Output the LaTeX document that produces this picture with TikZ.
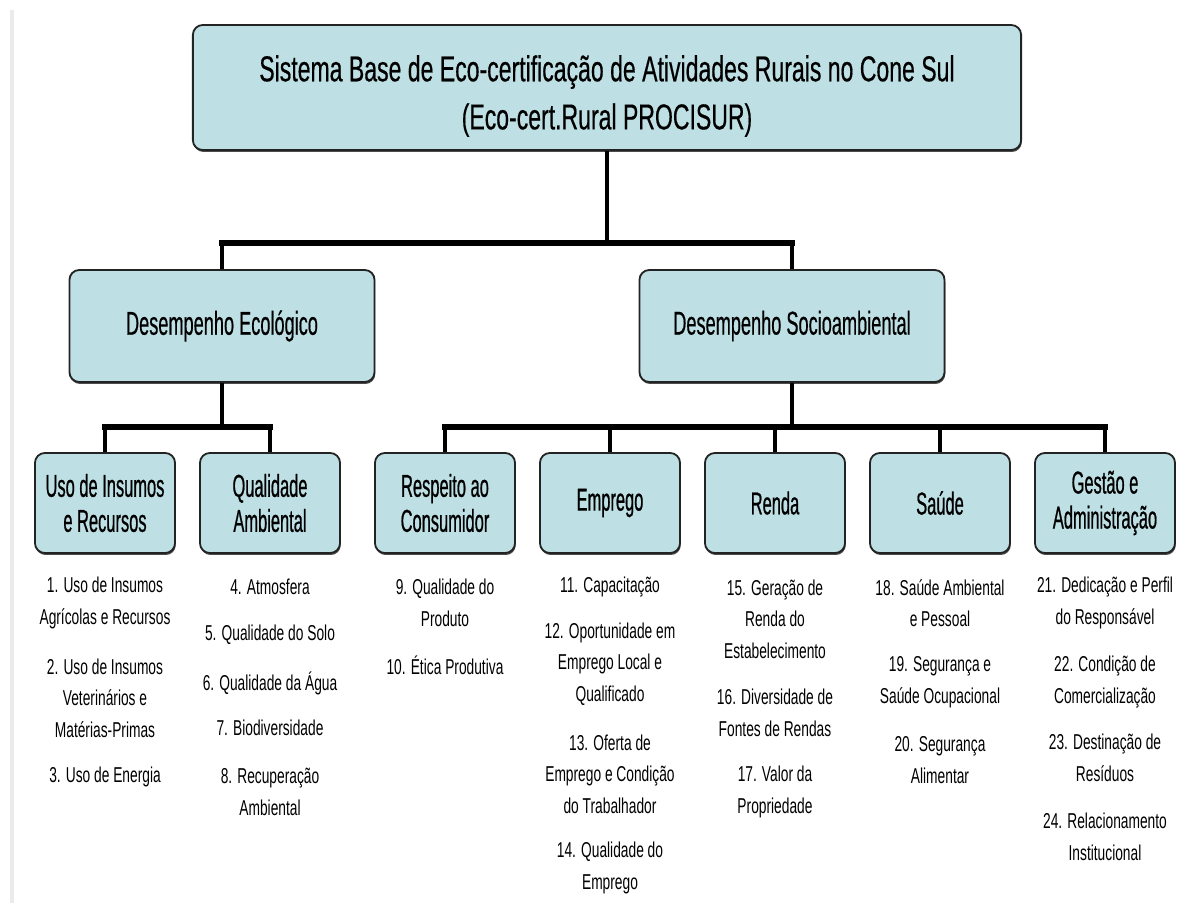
\documentclass[tikz,border=0pt]{standalone}
\usepackage{fontspec}
\setmainfont{Liberation Sans}
\newfontfamily\fonttitulo{Liberation Sans}[FakeStretch=0.64,FakeBold=0.4]
\newfontfamily\fontmeio{Liberation Sans}[FakeStretch=0.55,FakeBold=0.4]
\newfontfamily\fontcaixa{Liberation Sans}[FakeStretch=0.52,FakeBold=0.6]
\newfontfamily\fontitem{Liberation Sans}[FakeStretch=0.64]
\usetikzlibrary{shadows}

\definecolor{corcaixa}{RGB}{190,224,228}
\definecolor{corborda}{RGB}{35,35,35}

\tikzset{
  caixa/.style={draw=corborda, line width=1.3pt, fill=corcaixa, rounded corners=7pt,
    align=center, inner sep=0pt,
    drop shadow={shadow xshift=0.5pt, shadow yshift=-1.4pt, fill=black!70, opacity=1}},
  topo/.style={caixa, minimum width=20.7cm, minimum height=3.125cm},
  titulo/.style={align=center, inner sep=0pt,
    font=\fonttitulo\fontsize{25.6}{34.2}\selectfont},
  meio/.style={caixa, minimum width=7.625cm, minimum height=2.8cm,
    font=\fontmeio\fontsize{23.5}{25}\selectfont},
  folha/.style={caixa, minimum width=3.5cm, minimum height=2.5cm,
    font=\fontcaixa\fontsize{22.5}{24.9}\selectfont},
  item/.style={align=center, inner sep=0pt,
    font=\fontitem\fontsize{15.3}{22.4}\selectfont},
  haste/.style={line width=2.6pt},
  barra/.style={line width=4pt, line cap=rect}
}

\begin{document}
\begin{tikzpicture}[x=0.025cm, y=-0.025cm]

    \useasboundingbox[fill=white] (0,0) rectangle (1191,903);
    \draw[black!8, line width=3pt] (12,10) -- (12,903);

    % caixa principal
    \node[topo] (sis) at (607,87.5) {};
    \node[titulo] (tit) at (607,96) {Sistema Base de Eco-certificação de Atividades Rurais no Cone Sul\\(Eco-cert.Rural PROCISUR)};

    % desempenhos
    \node[meio] (eco) at (222,326) {Desempenho Ecológico};
    \node[meio] (soc) at (792,326) {Desempenho Socioambiental};

    % temas
    \node[folha] (uso) at (105,503) {Uso de Insumos\\e Recursos};
    \node[folha] (qual) at (270,503) {Qualidade\\Ambiental};
    \node[folha] (resp) at (445,503) {Respeito ao\\Consumidor};
    \node[folha] (empr) at (610,503) {Emprego};
    \node[folha] (renda) at (775,503) {Renda};
    \node[folha] (saude) at (940,503) {Saúde};
    \node[folha] (gest) at (1105,503) {Gestão e\\Administração};

    % ligacoes
    \coordinate (j0) at (607,243);
    \coordinate (j1) at (222,427);
    \coordinate (j2) at (792,427);
    \draw[barra] (eco.north |- j0) -- (soc.north |- j0);
    \draw[haste] (sis.south) -- (j0);
    \draw[haste] (eco.north |- j0) -- (eco.north);
    \draw[haste] (soc.north |- j0) -- (soc.north);
    \draw[barra] (uso.north |- j1) -- (qual.north |- j1);
    \draw[haste] (eco.south) -- (j1);
    \foreach \c in {uso,qual}
        \draw[haste] (\c.north |- j1) -- (\c.north);
    \draw[barra] (resp.north |- j2) -- (gest.north |- j2);
    \draw[haste] (soc.south) -- (j2);
    \foreach \c in {resp,empr,renda,saude,gest}
        \draw[haste] (\c.north |- j2) -- (\c.north);

    % indicadores
    \node[item] (i1) at (105,603) {1. Uso de Insumos\\Agrícolas e Recursos};
    \node[item] (i2) at (105,698) {2. Uso de Insumos\\Veterinários e\\Matérias-Primas};
    \node[item] (i3) at (105,777) {3. Uso de Energia};
    \node[item] (i4) at (270,587) {4. Atmosfera};
    \node[item] (i5) at (270,635) {5. Qualidade do Solo};
    \node[item] (i6) at (270,683) {6. Qualidade da Água};
    \node[item] (i7) at (270,728) {7. Biodiversidade};
    \node[item] (i8) at (270,792) {8. Recuperação\\Ambiental};
    \node[item] (i9) at (445,603) {9. Qualidade do\\Produto};
    \node[item] (i10) at (445,665) {10. Ética Produtiva};
    \node[item] (i11) at (610,587) {11. Capacitação};
    \node[item] (i12) at (610,664) {12. Oportunidade em\\Emprego Local e\\Qualificado};
    \node[item] (i13) at (610,774) {13. Oferta de\\Emprego e Condição\\do Trabalhador};
    \node[item] (i14) at (610,868) {14. Qualidade do\\Emprego};
    \node[item] (i15) at (775,619) {15. Geração de\\Renda do\\Estabelecimento};
    \node[item] (i16) at (775,713) {16. Diversidade de\\Fontes de Rendas};
    \node[item] (i17) at (775,792) {17. Valor da\\Propriedade};
    \node[item] (i18) at (940,603) {18. Saúde Ambiental\\e Pessoal};
    \node[item] (i19) at (940,682) {19. Segurança e\\Saúde Ocupacional};
    \node[item] (i20) at (940,760) {20. Segurança\\Alimentar};
    \node[item] (i21) at (1105,603) {21. Dedicação e Perfil\\do Responsável};
    \node[item] (i22) at (1105,682) {22. Condição de\\Comercialização};
    \node[item] (i23) at (1105,758) {23. Destinação de\\Resíduos};
    \node[item] (i24) at (1105,837) {24. Relacionamento\\Institucional};

\end{tikzpicture}
\end{document}
